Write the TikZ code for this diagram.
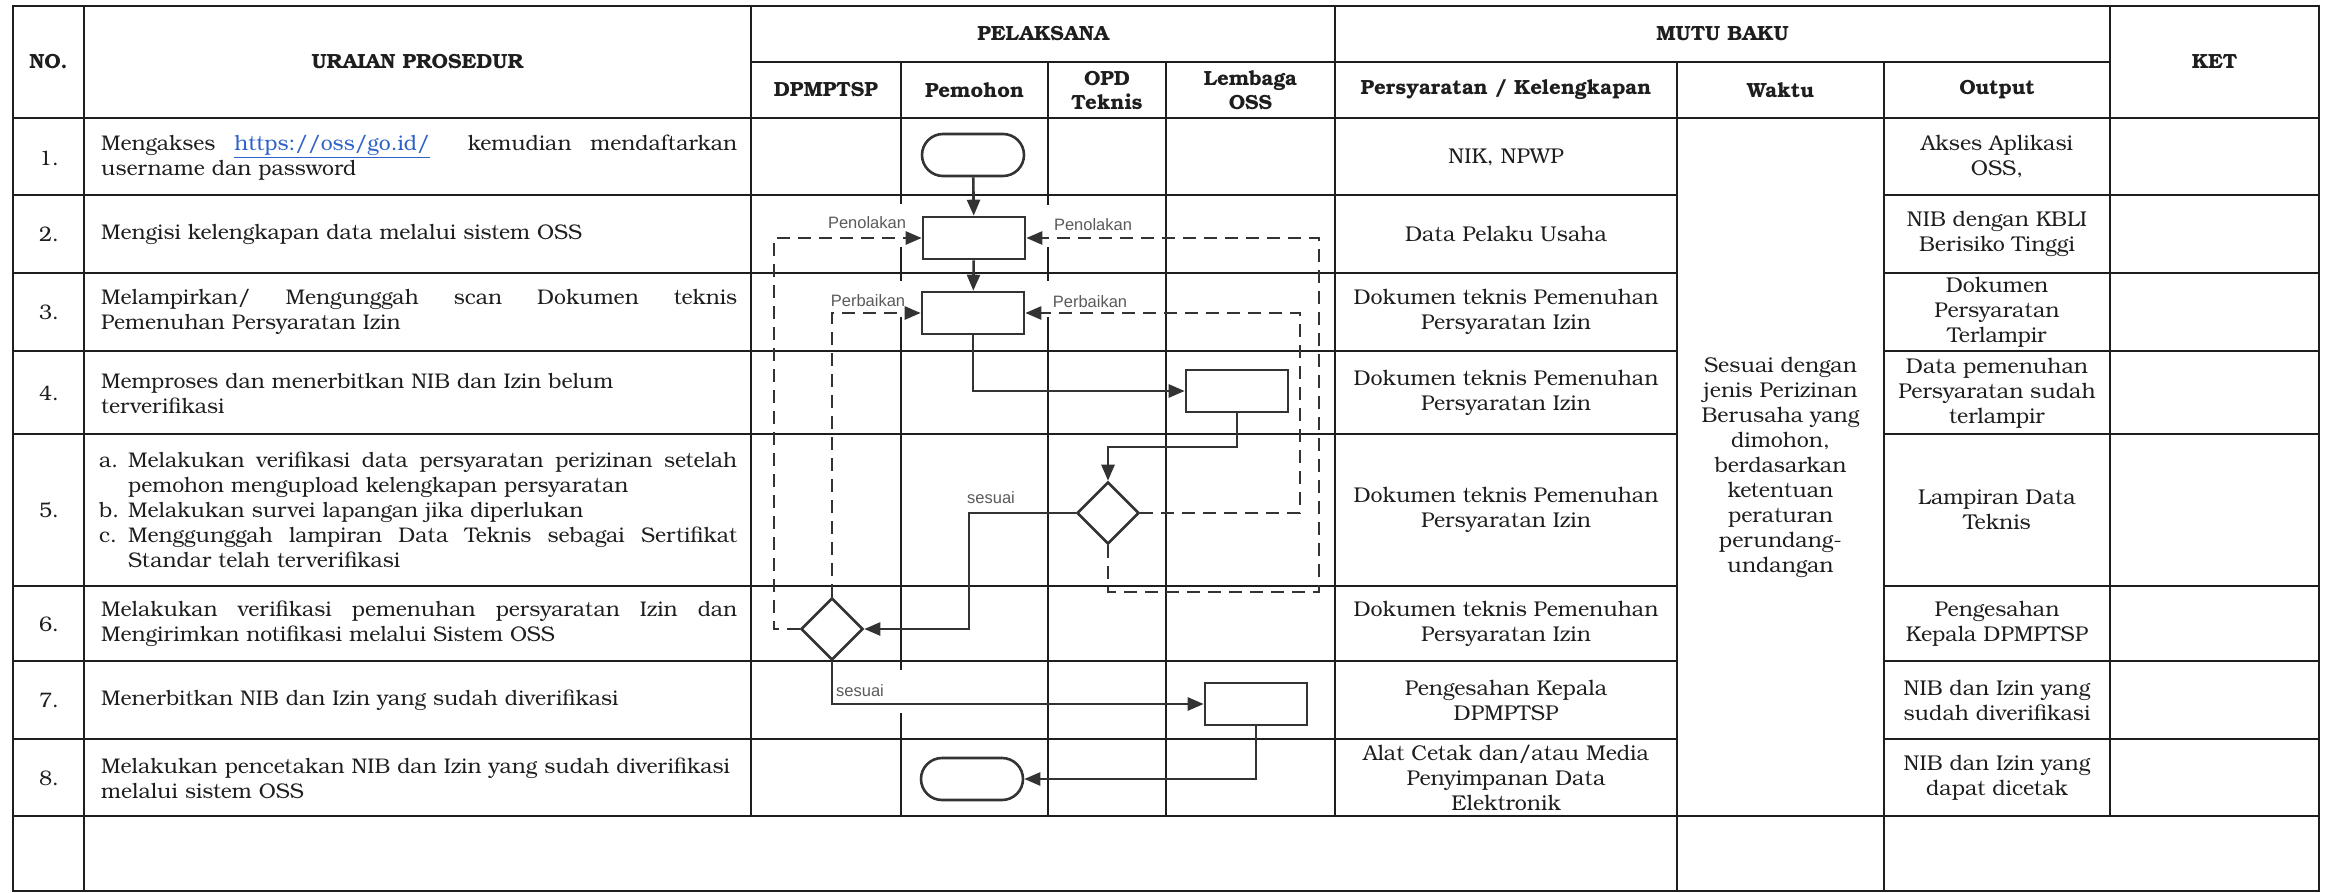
\documentclass[tikz,border=0pt]{standalone}
\usepackage{fontspec}
\setmainfont{texgyrebonum}[Extension=.otf, UprightFont=*-regular, BoldFont=*-bold, ItalicFont=*-italic, BoldItalicFont=*-bolditalic]
\newfontfamily\labfont{Liberation Sans}
\usetikzlibrary{shapes.geometric, arrows.meta}
\definecolor{ink}{HTML}{1E1E1E}
\definecolor{flow}{HTML}{333333}
\definecolor{lbl}{HTML}{5A5A5A}
\definecolor{linkblue}{HTML}{2F62C8}
\newcommand\jline[2]{\hbox to #1{#2}}
\tikzset{
  gridline/.style={draw=ink, line width=1.5pt},
  gapmask/.style={fill=white, draw=none},
  hdr/.style={font=\fontsize{20.5}{24}\selectfont\bfseries, align=center, text=ink, inner sep=0pt},
  cell/.style={font=\fontsize{21.4}{25}\selectfont, align=center, text=ink, inner sep=0pt},
  numtxt/.style={font=\fontsize{21}{25}\selectfont, text=ink, inner sep=0pt},
  desc/.style={font=\fontsize{21.2}{25}\selectfont, align=left, text width=640pt, anchor=west, inner sep=0pt, text=ink},
  proc/.style={draw=flow, line width=2.6pt, minimum width=102pt, minimum height=42pt, inner sep=0pt, fill=white},
  term/.style={proc, rounded corners=21pt},
  dec/.style={draw=flow, line width=2.6pt, diamond, minimum width=62pt, minimum height=62pt, inner sep=0pt, fill=white},
  flowline/.style={draw=flow, line width=2.6pt, -{Triangle[length=16pt,width=13pt]}},
  flowdash/.style={flowline, dash pattern=on 13pt off 8pt},
  flowlab/.style={font=\labfont\fontsize{16.5}{18}\selectfont, text=lbl, inner sep=1pt},
}
\begin{document}
\begin{tikzpicture}[x=1pt, y=-1pt]
\useasboundingbox (0,0) rectangle (2329,893);
% ---------- grid ----------
\def\cA{13}\def\cB{84}\def\cC{751}\def\cD{901}\def\cE{1048}\def\cF{1166}\def\cG{1335}\def\cH{1677}\def\cI{1884}\def\cJ{2110}\def\cK{2319}
\def\rA{6}\def\rH{62}\def\rB{118}\def\rJ{816}\def\rK{891}
\draw[gridline] (\cA,\rA) rectangle (\cK,\rK);
\draw[gridline] (\cC,\rH) -- (\cJ,\rH);
\draw[gridline] (\cA,\rB) -- (\cK,\rB);
\foreach \y in {195,273,351,434,586,661,739} {
  \draw[gridline] (\cA,\y) -- (\cH,\y);
  \draw[gridline] (\cI,\y) -- (\cK,\y);
}
\draw[gridline] (\cA,\rJ) -- (\cK,\rJ);
\draw[gridline] (\cB,\rA) -- (\cB,\rK);
\draw[gridline] (\cC,\rA) -- (\cC,\rJ);
\foreach \x in {\cD,\cE,\cF} \draw[gridline] (\x,\rH) -- (\x,\rJ);
\draw[gridline] (\cG,\rA) -- (\cG,\rJ);
\draw[gridline] (\cH,\rH) -- (\cH,\rK);
\draw[gridline] (\cI,\rH) -- (\cI,\rK);
\draw[gridline] (\cJ,\rA) -- (\cJ,\rJ);
% gaps in the lane lines behind the flow labels
\fill[gapmask] (895,204) rectangle (907,247);
\fill[gapmask] (895,281) rectangle (907,317);
\fill[gapmask] (895,670) rectangle (907,713);
\fill[gapmask] (1042,205) rectangle (1054,247);
\fill[gapmask] (1042,281) rectangle (1054,317);
% ---------- headers ----------
\node[hdr] (hno) at (48.5,62) {NO.};
\node[hdr] (hur) at (417.5,62) {URAIAN PROSEDUR};
\node[hdr] (hpel) at (1043,34) {PELAKSANA};
\node[hdr] (hmutu) at (1722.5,34) {MUTU BAKU};
\node[hdr] (hket) at (2214.5,62) {KET};
\node[hdr] (hdp) at (826,90) {DPMPTSP};
\node[hdr] (hpem) at (974.5,90) {Pemohon};
\node[hdr] (hopd) at (1107,90) {OPD\\Teknis};
\node[hdr] (hlem) at (1250.5,90) {Lembaga\\OSS};
\node[hdr] (hper) at (1506,90) {Persyaratan / Kelengkapan};
\node[hdr] (hwak) at (1780.5,90) {Waktu};
\node[hdr] (hout) at (1997,90) {Output};
% ---------- numbers ----------
\node[numtxt] (n1) at (49,158) {1.};
\node[numtxt] (n2) at (49,234) {2.};
\node[numtxt] (n3) at (49,312) {3.};
\node[numtxt] (n4) at (49,393) {4.};
\node[numtxt] (n5) at (49,510) {5.};
\node[numtxt] (n6) at (49,624) {6.};
\node[numtxt] (n7) at (49,700) {7.};
\node[numtxt] (n8) at (49,778) {8.};
% ---------- descriptions ----------
\node[desc] (u1) at (101,158) {\jline{636pt}{Mengakses\hfill\textcolor{linkblue}{\underline{https://oss/go.id/}}\hfill\hfill kemudian\hfill mendaftarkan}\\username dan password};
\node[desc] (u2) at (101,234) {Mengisi kelengkapan data melalui sistem OSS};
\node[desc] (u3) at (101,312) {\jline{636pt}{Melampirkan/\hfill Mengunggah\hfill scan\hfill Dokumen\hfill teknis}\\Pemenuhan Persyaratan Izin};
\node[desc] (u4) at (101,393) {Memproses dan menerbitkan NIB dan Izin belum\\terverifikasi};
\node[desc] (u5) at (99,510) {\makebox[29pt][l]{a.}\jline{609pt}{Melakukan\hfill verifikasi\hfill data\hfill persyaratan\hfill perizinan\hfill setelah}\\\hspace*{29pt}pemohon mengupload kelengkapan persyaratan\\\makebox[29pt][l]{b.}Melakukan survei lapangan jika diperlukan\\\makebox[29pt][l]{c.}\jline{609pt}{Menggunggah\hfill lampiran\hfill Data\hfill Teknis\hfill sebagai\hfill Sertifikat}\\\hspace*{29pt}Standar telah terverifikasi};
\node[desc] (u6) at (101,624) {\jline{636pt}{Melakukan\hfill verifikasi\hfill pemenuhan\hfill persyaratan\hfill Izin\hfill dan}\\Mengirimkan notifikasi melalui Sistem OSS};
\node[desc] (u7) at (101,700) {Menerbitkan NIB dan Izin yang sudah diverifikasi};
\node[desc] (u8) at (101,778) {Melakukan pencetakan NIB dan Izin yang sudah diverifikasi\\melalui sistem OSS};
% ---------- persyaratan ----------
\node[cell] (p1) at (1506,157) {NIK, NPWP};
\node[cell] (p2) at (1506,234) {Data Pelaku Usaha};
\node[cell] (p3) at (1506,312) {Dokumen teknis Pemenuhan\\Persyaratan Izin};
\node[cell] (p4) at (1506,393) {Dokumen teknis Pemenuhan\\Persyaratan Izin};
\node[cell] (p5) at (1506,510) {Dokumen teknis Pemenuhan\\Persyaratan Izin};
\node[cell] (p6) at (1506,624) {Dokumen teknis Pemenuhan\\Persyaratan Izin};
\node[cell] (p7) at (1506,700) {Pengesahan Kepala\\DPMPTSP};
\node[cell] (p8) at (1506,778) {Alat Cetak dan/atau Media\\Penyimpanan Data\\Elektronik};
% ---------- waktu ----------
\node[cell] (w) at (1780.5,467) {Sesuai dengan\\jenis Perizinan\\Berusaha yang\\dimohon,\\berdasarkan\\ketentuan\\peraturan\\perundang-\\undangan};
% ---------- output ----------
\node[cell] (o1t) at (1997,157) {Akses Aplikasi\\OSS,};
\node[cell] (o2t) at (1997,234) {NIB dengan KBLI\\Berisiko Tinggi};
\node[cell] (o3t) at (1997,312) {Dokumen\\Persyaratan\\Terlampir};
\node[cell] (o4t) at (1997,393) {Data pemenuhan\\Persyaratan sudah\\terlampir};
\node[cell] (o5t) at (1997,510) {Lampiran Data\\Teknis};
\node[cell] (o6t) at (1997,624) {Pengesahan\\Kepala DPMPTSP};
\node[cell] (o7t) at (1997,700) {NIB dan Izin yang\\sudah diverifikasi};
\node[cell] (o8t) at (1997,778) {NIB dan Izin yang\\dapat dicetak};
% ---------- flow labels ----------
\node[flowlab] (lpl) at (867,223) {Penolakan};
\node[flowlab] (lpr) at (1093,225) {Penolakan};
\node[flowlab] (lbl) at (868,301) {Perbaikan};
\node[flowlab] (lbr) at (1090,302) {Perbaikan};
\node[flowlab] (ls5) at (991,498) {sesuai};
\node[flowlab] (ls6) at (860,691) {sesuai};
% ---------- flow shapes ----------
\node[term] (s1) at (973,155) {};
\node[proc] (b2) at (974,238) {};
\node[proc] (b3) at (973,313) {};
\node[proc] (b4) at (1237,391) {};
\node[dec] (d5) at (1108,513) {};
\node[dec] (d6) at (832,629) {};
\node[proc] (b7) at (1256,704) {};
\node[term] (s8) at (972,779) {};
\coordinate (k5) at (969,629);
\coordinate (k4) at (1108,447);
\coordinate (pr) at (1300,313);
\coordinate (q1) at (1319,592);
\coordinate (q2) at (774,238);
% ---------- connectors ----------
\draw[flowline] (s1) -- (b2);
\draw[flowline] (b2) -- (b3);
\draw[flowline] (b3.south) |- (b4.west);
\draw[flowline] (b4.south) |- (k4) -- (d5.north);
\draw[flowline] (d5.west) -| (k5) -- (d6.east);
\draw[flowdash] (d5.east) -| (pr) -- (b3.east);
\draw[flowdash] (d5.south) |- (q1) |- (b2.east);
\draw[flowdash] (d6.north) |- (b3.west);
\draw[flowdash] (d6.west) -| (q2) -- (b2.west);
\draw[flowline] (d6.south) |- (b7.west);
\draw[flowline] (b7.south) |- (s8.east);
\end{tikzpicture}
\end{document}
